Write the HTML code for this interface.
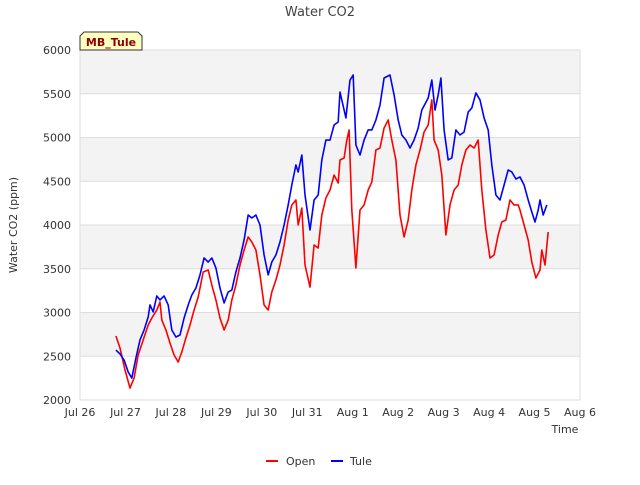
<!DOCTYPE html>
<html><head><meta charset="utf-8"><style>
body{margin:0;background:#fff;font-family:"Liberation Sans",sans-serif}
svg text{font-family:"DejaVu Sans","Liberation Sans",sans-serif}
</style></head><body>
<svg id="c" width="640" height="480" xmlns="http://www.w3.org/2000/svg">
<rect width="640" height="480" fill="#fff"/>
<g id="bands"></g><g id="grid"></g><g id="axes"></g><g id="series"></g>
<text x="320" y="16" text-anchor="middle" font-size="13" fill="#444">Water CO2</text>
<text x="565" y="433" text-anchor="middle" font-size="11" fill="#333">Time</text>
<text transform="translate(17,225) rotate(-90)" text-anchor="middle" font-size="11" fill="#333">Water CO2 (ppm)</text>
<g>
<path d="M80,50 L80,36 L84,32 L138,32 L142,36 L142,50 Z" fill="#ffffc0" stroke="#333"/>
<text x="111" y="46" text-anchor="middle" font-size="11" font-weight="bold" fill="#8b0000">MB_Tule</text>
</g>
<g>
<line x1="266" y1="461" x2="278" y2="461" stroke="#f00" stroke-width="2"/>
<text x="286" y="465" font-size="11" fill="#333">Open</text></g>
<g>
<line x1="331" y1="461" x2="343" y2="461" stroke="#00f" stroke-width="2"/>
<text x="350" y="465" font-size="11" fill="#333">Tule</text></g>
</svg>
<script>
const xTickLabels=["Jul 26","Jul 27","Jul 28","Jul 29","Jul 30","Jul 31","Aug 1","Aug 2","Aug 3","Aug 4","Aug 5","Aug 6"];
const yTicks=[2000,2500,3000,3500,4000,4500,5000,5500,6000];
const openT=[0.79,0.88,0.99,1.10,1.19,1.28,1.39,1.50,1.58,1.69,1.76,1.80,1.89,1.98,2.07,2.16,2.24,2.33,2.42,2.51,2.60,2.64,2.71,2.82,2.90,2.99,3.08,3.17,3.26,3.34,3.43,3.52,3.61,3.70,3.78,3.87,3.96,4.05,4.14,4.22,4.31,4.40,4.49,4.58,4.66,4.75,4.80,4.88,4.95,5.06,5.15,5.24,5.32,5.41,5.50,5.59,5.68,5.72,5.81,5.87,5.92,5.98,6.07,6.16,6.25,6.34,6.42,6.51,6.60,6.69,6.78,6.86,6.95,7.04,7.13,7.22,7.30,7.39,7.48,7.57,7.66,7.74,7.79,7.88,7.96,8.05,8.14,8.23,8.32,8.40,8.49,8.58,8.67,8.76,8.84,8.93,9.02,9.11,9.20,9.28,9.37,9.46,9.55,9.64,9.68,9.77,9.86,9.94,10.03,10.12,10.16,10.23,10.30];
const openV=[2731,2594,2343,2137,2251,2514,2686,2857,2937,3029,3120,2914,2800,2651,2514,2434,2549,2709,2857,3029,3177,3280,3463,3486,3314,3143,2937,2800,2914,3143,3314,3543,3714,3863,3806,3714,3429,3086,3029,3234,3371,3543,3771,4057,4229,4286,4000,4194,3543,3291,3771,3737,4114,4309,4400,4571,4480,4743,4766,4971,5086,4171,3509,4171,4229,4400,4491,4857,4880,5109,5200,4971,4743,4114,3863,4057,4400,4686,4857,5063,5143,5429,4971,4857,4571,3886,4229,4400,4457,4686,4857,4914,4880,4971,4400,3943,3623,3657,3886,4034,4057,4286,4229,4229,4171,4000,3829,3577,3394,3486,3714,3543,3920];
const tuleT=[0.79,0.88,0.97,1.06,1.14,1.23,1.32,1.41,1.50,1.54,1.61,1.69,1.76,1.85,1.94,2.02,2.11,2.20,2.29,2.38,2.46,2.55,2.64,2.73,2.82,2.90,2.99,3.08,3.17,3.26,3.34,3.43,3.52,3.61,3.70,3.78,3.87,3.96,4.05,4.14,4.22,4.31,4.40,4.49,4.58,4.66,4.75,4.80,4.88,4.95,5.06,5.15,5.24,5.32,5.41,5.50,5.59,5.68,5.72,5.85,5.94,6.01,6.07,6.16,6.25,6.34,6.42,6.51,6.60,6.69,6.82,6.91,7.00,7.08,7.17,7.26,7.35,7.44,7.52,7.66,7.74,7.81,7.88,7.94,8.01,8.10,8.18,8.27,8.36,8.45,8.54,8.62,8.71,8.80,8.89,8.98,9.06,9.15,9.24,9.33,9.42,9.50,9.59,9.68,9.77,9.86,9.94,10.01,10.08,10.12,10.19,10.27];
const tuleV=[2571,2526,2457,2320,2251,2480,2686,2800,2949,3086,3006,3189,3143,3189,3086,2800,2720,2743,2937,3086,3200,3280,3429,3623,3577,3623,3509,3280,3109,3234,3257,3463,3623,3829,4114,4080,4114,4000,3657,3429,3577,3657,3806,4000,4229,4457,4686,4606,4800,4343,3943,4286,4343,4743,4971,4971,5143,5177,5520,5223,5657,5714,4914,4800,4971,5086,5086,5200,5371,5680,5714,5486,5200,5029,4971,4880,4971,5109,5314,5451,5657,5314,5486,5680,5086,4743,4766,5086,5029,5063,5291,5337,5509,5429,5223,5086,4686,4343,4286,4457,4629,4606,4526,4549,4457,4286,4149,4034,4171,4286,4114,4229];
const NS="http://www.w3.org/2000/svg";
const L=80,R=580,T=50,B=400;
const xs=d=>L+(R-L)*d/11;
const ys=v=>B-(B-T)*(v-2000)/4000;
function mk(tag,attrs,parent){const e=document.createElementNS(NS,tag);for(const k in attrs)e.setAttribute(k,attrs[k]);document.getElementById(parent).appendChild(e);return e;}
for(let i=0;i<yTicks.length-1;i++){
 if(i%2===1){const b=mk('rect',{x:L,y:ys(yTicks[i+1]),width:R-L,height:ys(yTicks[i])-ys(yTicks[i+1]),fill:'#f3f3f3'},'bands');
 
 }
}
yTicks.forEach(v=>{
 const g=mk('line',{x1:L,x2:R,y1:ys(v),y2:ys(v),stroke:'#ddd'},'grid');
 
 
 const t=mk('text',{x:L-9,y:ys(v)+4,'text-anchor':'end','font-size':'11',fill:'#333'},'axes');t.textContent=v;
 
 
});
mk('rect',{x:L,y:T,width:R-L,height:B-T,fill:'none',stroke:'#ddd'},'grid');
xTickLabels.forEach((s,i)=>{
 const t=mk('text',{x:xs(i),y:B+16,'text-anchor':'middle','font-size':'11',fill:'#333'},'axes');t.textContent=s;
 
 
});
function line(T_,V_,col,name){
 const p=mk('polyline',{points:T_.map((t,i)=>xs(t)+','+ys(V_[i])).join(' '),fill:'none',stroke:col,'stroke-width':'1.6','stroke-linejoin':'round'},'series');
 
 
}
line(openT,openV,'#f00','open-series-line');
line(tuleT,tuleV,'#00f','tule-series-line');
</script>
</body></html>
